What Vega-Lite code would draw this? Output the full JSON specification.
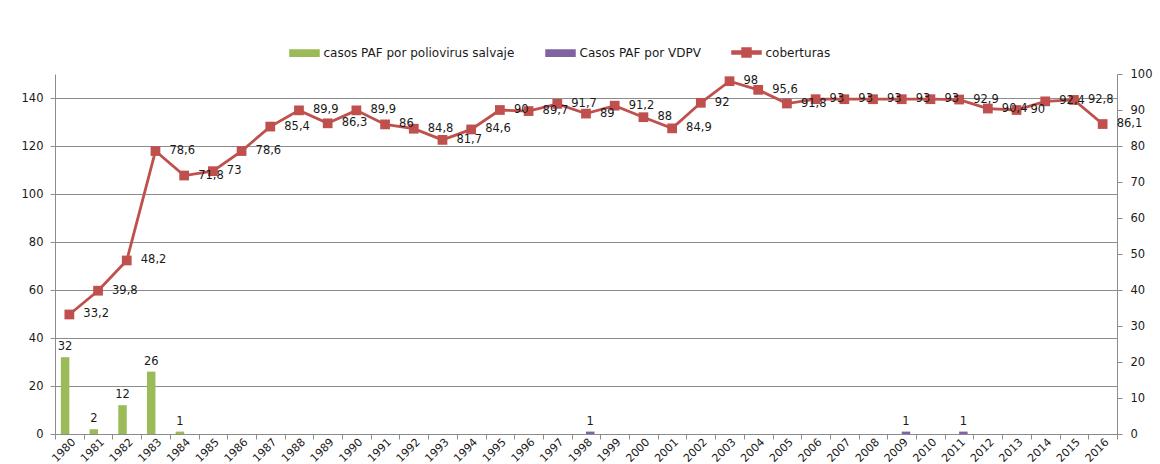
{
  "$schema": "https://vega.github.io/schema/vega-lite/v6.json",
  "width": 1062,
  "height": 360,
  "autosize": {"type": "none"},
  "padding": {"left": 55, "top": 74, "right": 43, "bottom": 30},
  "config": {
    "font": "DejaVu Sans",
    "locale": {"number": {"decimal": ",", "thousands": ".", "grouping": [3], "currency": ["", " €"]}},
    "view": {"stroke": null},
    "axis": {
      "domainColor": "#8c8c8c",
      "tickColor": "#8c8c8c",
      "gridColor": "#8c8c8c",
      "labelColor": "#1a1a1a",
      "labelFont": "DejaVu Sans",
      "labelFontSize": 11.5,
      "title": null
    }
  },
  "datasets": {
    "casos": [
      {"year": 1980, "serie": "casos PAF por poliovirus salvaje", "casos": 32},
      {"year": 1981, "serie": "casos PAF por poliovirus salvaje", "casos": 2},
      {"year": 1982, "serie": "casos PAF por poliovirus salvaje", "casos": 12},
      {"year": 1983, "serie": "casos PAF por poliovirus salvaje", "casos": 26},
      {"year": 1984, "serie": "casos PAF por poliovirus salvaje", "casos": 1},
      {"year": 1998, "serie": "Casos PAF por VDPV", "casos": 1},
      {"year": 2009, "serie": "Casos PAF por VDPV", "casos": 1},
      {"year": 2011, "serie": "Casos PAF por VDPV", "casos": 1}
    ],
    "cob": [
      {"year": 1980, "cobertura": 33.2},
      {"year": 1981, "cobertura": 39.8},
      {"year": 1982, "cobertura": 48.2},
      {"year": 1983, "cobertura": 78.6},
      {"year": 1984, "cobertura": 71.8},
      {"year": 1985, "cobertura": 73},
      {"year": 1986, "cobertura": 78.6},
      {"year": 1987, "cobertura": 85.4},
      {"year": 1988, "cobertura": 89.9},
      {"year": 1989, "cobertura": 86.3},
      {"year": 1990, "cobertura": 89.9},
      {"year": 1991, "cobertura": 86},
      {"year": 1992, "cobertura": 84.8},
      {"year": 1993, "cobertura": 81.7},
      {"year": 1994, "cobertura": 84.6},
      {"year": 1995, "cobertura": 90},
      {"year": 1996, "cobertura": 89.7},
      {"year": 1997, "cobertura": 91.7},
      {"year": 1998, "cobertura": 89},
      {"year": 1999, "cobertura": 91.2},
      {"year": 2000, "cobertura": 88},
      {"year": 2001, "cobertura": 84.9},
      {"year": 2002, "cobertura": 92},
      {"year": 2003, "cobertura": 98},
      {"year": 2004, "cobertura": 95.6},
      {"year": 2005, "cobertura": 91.8},
      {"year": 2006, "cobertura": 93},
      {"year": 2007, "cobertura": 93},
      {"year": 2008, "cobertura": 93},
      {"year": 2009, "cobertura": 93},
      {"year": 2010, "cobertura": 93},
      {"year": 2011, "cobertura": 92.9},
      {"year": 2012, "cobertura": 90.4},
      {"year": 2013, "cobertura": 90},
      {"year": 2014, "cobertura": 92.4},
      {"year": 2015, "cobertura": 92.8},
      {"year": 2016, "cobertura": 86.1}
    ]
  },
  "encoding": {
    "x": {
      "field": "year",
      "type": "ordinal",
      "scale": {"paddingInner": 0, "paddingOuter": 0},
      "axis": {
        "labelAngle": -45,
        "labelFontSize": 11,
        "tickBand": "extent",
        "tickSize": 5,
        "labelPadding": -3,
        "domainColor": "#8c8c8c",
        "grid": false
      }
    }
  },
  "layer": [
    {
      "data": {"name": "casos"},
      "encoding": {
        "xOffset": {
          "field": "serie",
          "type": "nominal",
          "scale": {"domain": ["casos PAF por poliovirus salvaje", "Casos PAF por VDPV"], "paddingInner": 0, "paddingOuter": 0.69}
        },
        "y": {
          "field": "casos",
          "type": "quantitative",
          "scale": {"domain": [0, 150], "nice": false},
          "axis": {
            "orient": "left",
            "values": [0, 20, 40, 60, 80, 100, 120, 140],
            "grid": true,
            "tickSize": 5,
            "labelPadding": 7
          }
        }
      },
      "layer": [
        {
          "mark": {"type": "bar"},
          "encoding": {
            "color": {
              "field": "serie",
              "type": "nominal",
              "scale": {
                "domain": ["casos PAF por poliovirus salvaje", "Casos PAF por VDPV", "coberturas"],
                "range": ["#9bbb59", "#8064a2", "#c0504d"]
              },
              "legend": {
                "title": null,
                "orient": "none",
                "direction": "horizontal",
                "legendX": 234,
                "legendY": -37,
                "symbolSize": 841,
                "labelFontSize": 12,
                "labelLimit": 0,
                "labelFont": "DejaVu Sans",
                "labelColor": "#1a1a1a",
                "labelOffset": 3.5,
                "columnPadding": 28,
                "padding": 0,
                "encode": {
                  "symbols": {
                    "update": {
                      "shape": {"signal": "datum.value === 'coberturas' ? 'M-1,-0.1H1V0.1H-1Z M-0.31,-0.31H0.31V0.31H-0.31Z' : 'M-1,-0.22H1V0.22H-1Z'"},
                      "fill": {"signal": "scale('color', datum.value)"},
                      "stroke": {"value": "transparent"},
                      "opacity": {"value": 1},
                      "fillOpacity": {"value": 1}
                    }
                  }
                }
              }
            }
          }
        },
        {
          "mark": {"type": "text", "baseline": "bottom", "dy": -5, "fontSize": 11.5, "color": "#1a1a1a"},
          "encoding": {
            "text": {"field": "casos", "type": "quantitative"}
          }
        }
      ]
    },
    {
      "data": {"name": "cob"},
      "encoding": {
        "y": {
          "field": "cobertura",
          "type": "quantitative",
          "scale": {"domain": [0, 100], "nice": false},
          "axis": {
            "orient": "right",
            "values": [0, 10, 20, 30, 40, 50, 60, 70, 80, 90, 100],
            "grid": false,
            "tickSize": 5,
            "labelPadding": 8
          }
        }
      },
      "layer": [
        {
          "mark": {"type": "line", "strokeWidth": 2.8},
          "encoding": {
            "color": {"datum": "coberturas", "type": "nominal"}
          }
        },
        {
          "mark": {"type": "point", "shape": "square", "filled": true, "size": 95, "opacity": 1},
          "encoding": {
            "color": {"datum": "coberturas", "type": "nominal"}
          }
        },
        {
          "mark": {"type": "text", "align": "left", "baseline": "middle", "dx": 14, "fontSize": 11.5, "color": "#1a1a1a"},
          "encoding": {
            "text": {"field": "cobertura", "type": "quantitative", "format": ".1~f"}
          }
        }
      ]
    }
  ],
  "resolve": {"scale": {"y": "independent"}}
}
